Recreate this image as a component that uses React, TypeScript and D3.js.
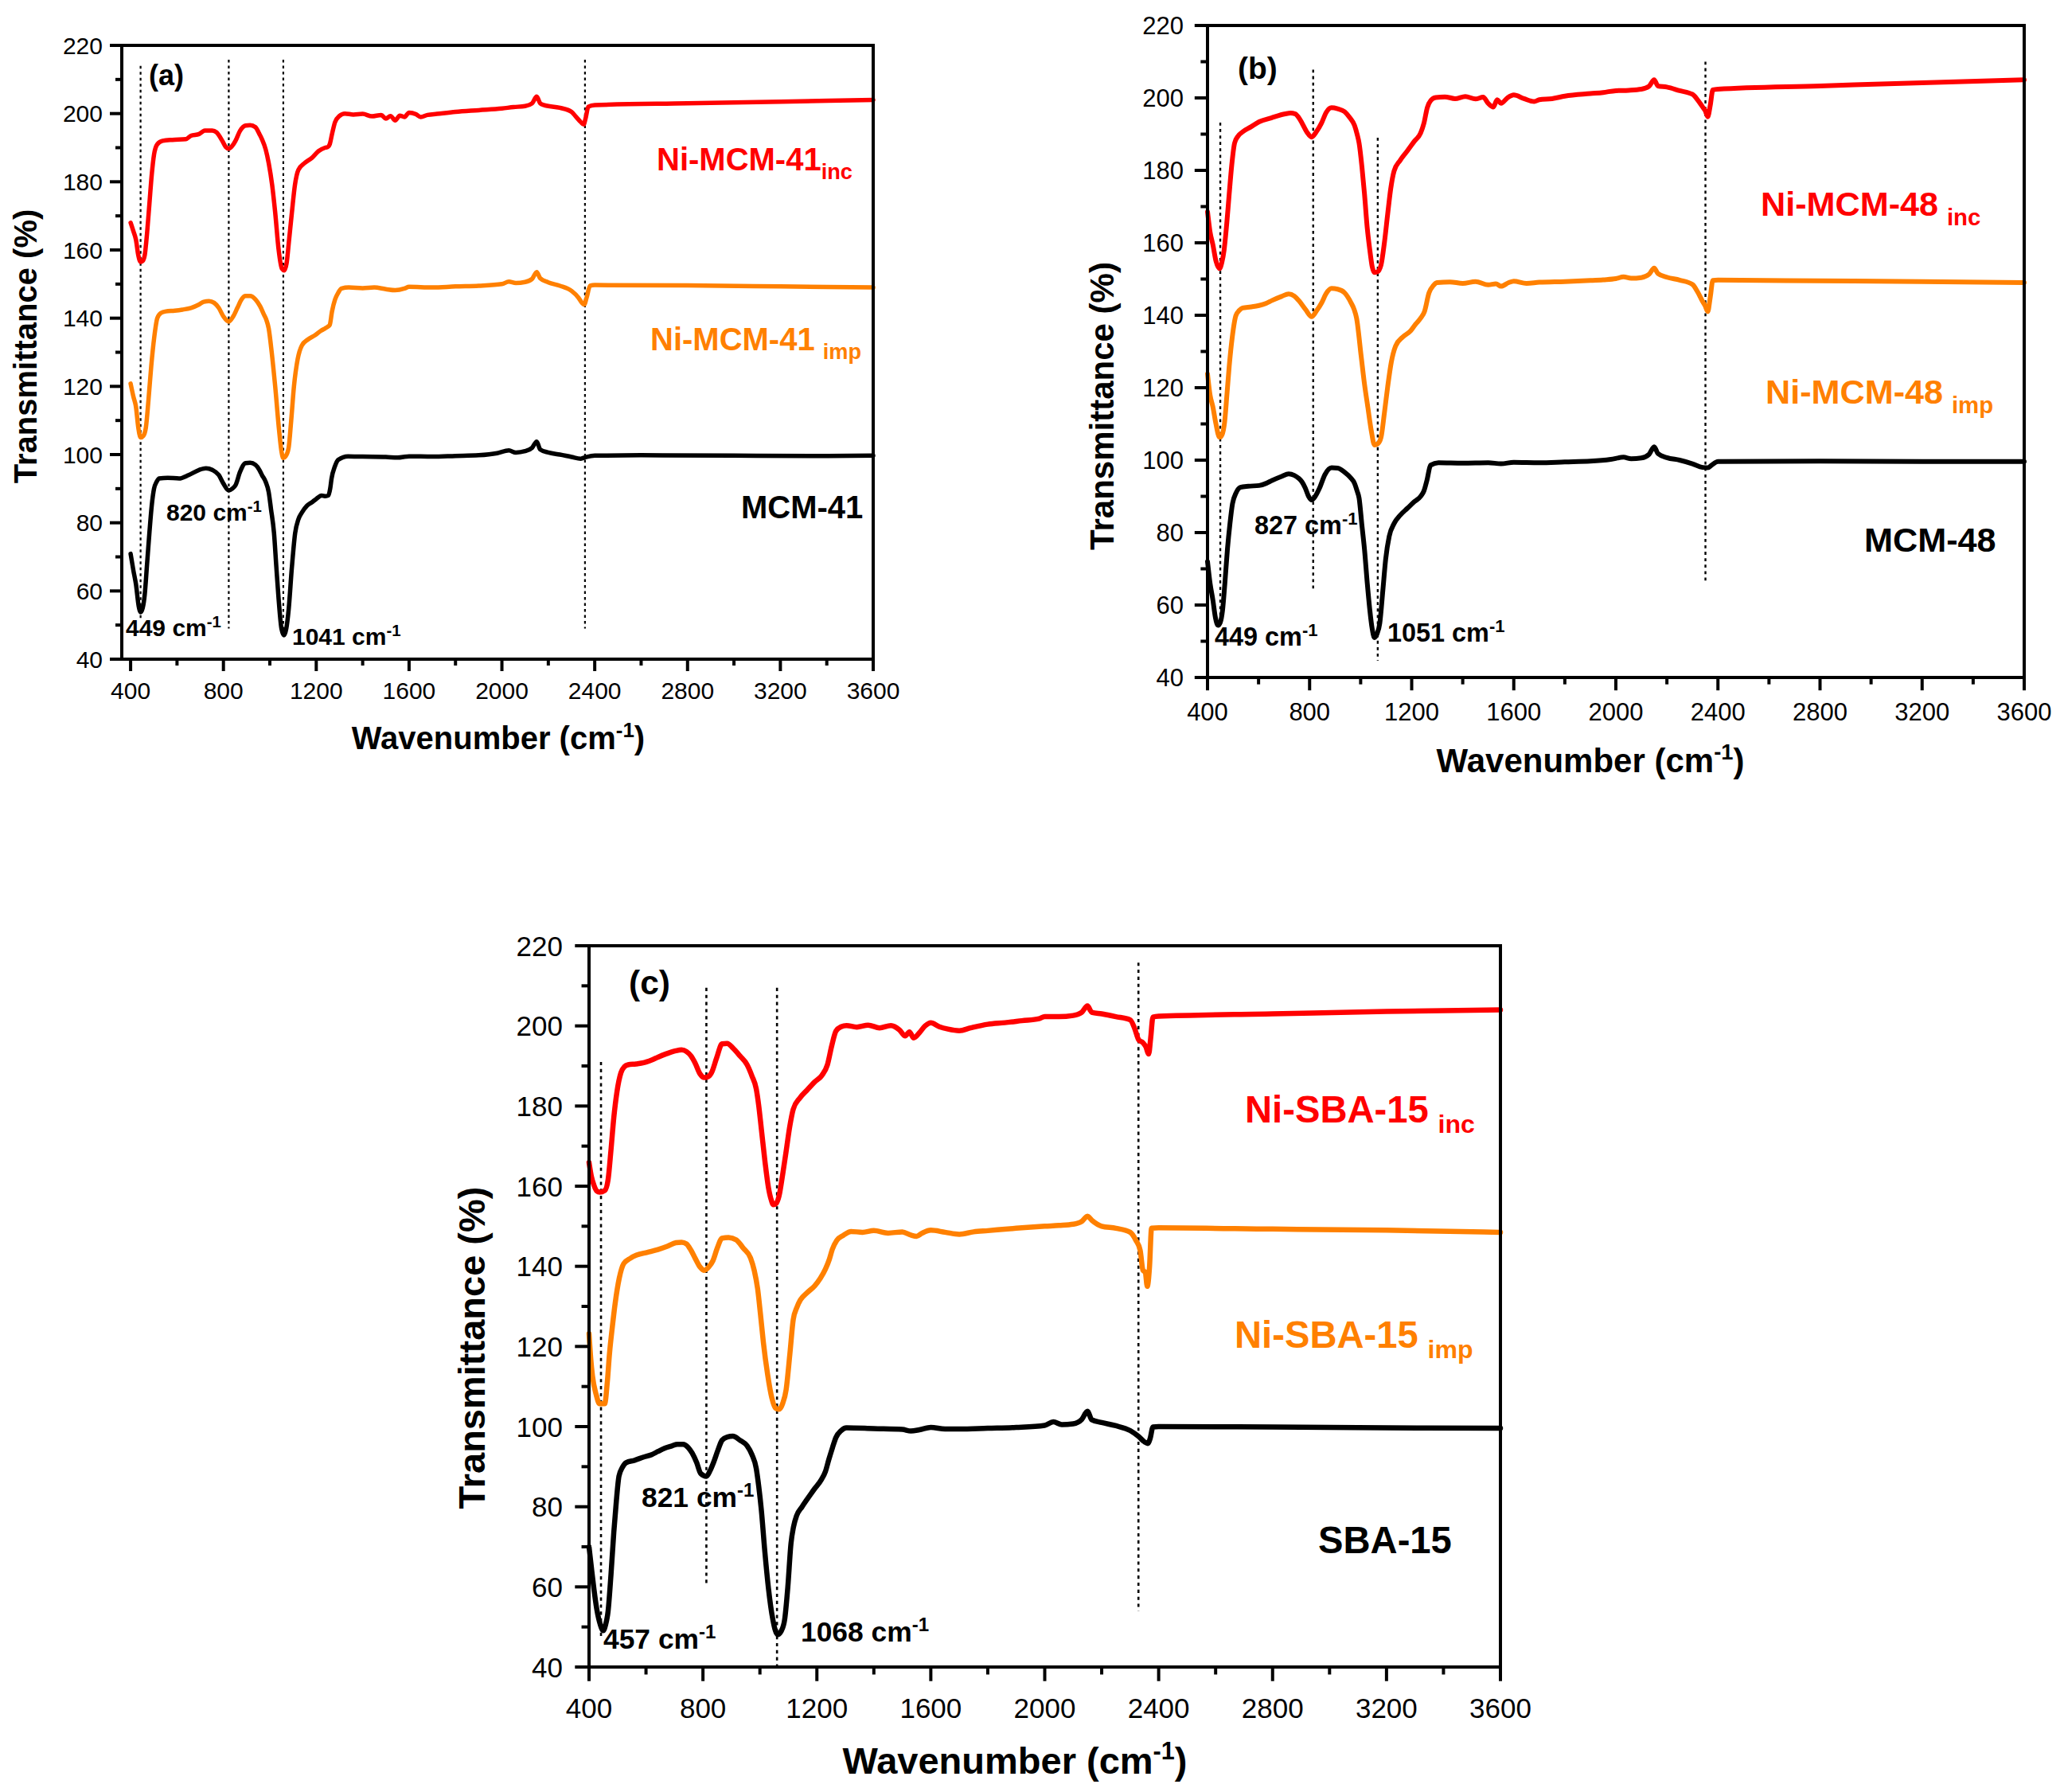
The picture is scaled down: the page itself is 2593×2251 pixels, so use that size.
import React from "react";
import * as d3 from "d3";

type Pt = [number, number];

// ---------- Panel (a) ----------
const mcm41: Pt[] = [[400,70.9],[412,66],[423,62],[435,55.5],[443,53.8],[452,55],[461,59],[471,68],[481,77],[491,85],[501,90],[512,92],[523,93],[560,93.2],[609,93],[650,94],[695,95.5],[725,96],[752,95.5],[780,94],[800,91.5],[823,89.5],[838,90],[852,91],[872,95],[895,97.5],[915,97.6],[938,97],[955,95.5],[966,94],[982,92],[995,89],[1005,84],[1018,77],[1028,67],[1038,57.5],[1050,49],[1061,47],[1071,49],[1081,54.5],[1095,67],[1109,77],[1123,81],[1138,83],[1160,85],[1181,86],[1200,87],[1223,88],[1240,87.8],[1252,88],[1260,90],[1266,93],[1280,96.5],[1295,98.5],[1337,99.5],[1400,99.4],[1500,99.3],[1550,99.1],[1600,99.5],[1700,99.4],[1800,99.6],[1900,99.8],[1980,100.4],[2030,101.2],[2060,100.6],[2100,101],[2130,102],[2150,103.8],[2165,101.5],[2200,100.6],[2250,100],[2300,99.3],[2340,98.8],[2360,99.2],[2400,99.7],[2600,99.8],[3000,99.7],[3400,99.6],[3600,99.7]];
const niMcm41Inc: Pt[] = [[400,168],[412,165.5],[423,163],[433,158.5],[443,156.5],[452,156.8],[461,158.5],[471,165],[481,173.5],[491,182],[501,188],[515,191],[538,192],[580,192.3],[638,192.5],[660,193.5],[695,194],[720,195],[752,195],[770,194.5],[795,192],[810,190.2],[823,189.7],[838,190.5],[852,192],[872,195],[895,196.5],[915,196.6],[938,196],[955,194],[966,192.5],[982,189.5],[995,185.5],[1010,179],[1023,171],[1038,160],[1052,154.5],[1062,154],[1072,156],[1083,163],[1095,171],[1108,179],[1123,183.5],[1150,185.5],[1181,187],[1210,189],[1238,190],[1250,190.2],[1258,191],[1268,194],[1281,197.5],[1300,199.3],[1323,200],[1360,199.7],[1400,199.9],[1440,199.2],[1480,199.6],[1500,198.5],[1520,199.3],[1540,198],[1560,199.4],[1580,199],[1600,200.3],[1630,199.8],[1650,199],[1680,199.6],[1720,199.9],[1800,200.5],[1900,201],[2000,201.5],[2050,201.9],[2100,202.2],[2130,203],[2150,205],[2165,203],[2180,202.5],[2250,201.7],[2300,200.5],[2320,199],[2340,197.5],[2352,196.8],[2362,199],[2372,202],[2400,202.5],[2800,203],[3200,203.5],[3600,204]];
const niMcm41Imp: Pt[] = [[400,120.8],[412,117],[423,114],[433,108],[443,105],[455,105.5],[466,108],[477,116],[489,126],[502,134.5],[515,140],[530,141.5],[552,142],[590,142.2],[623,142.5],[660,143],[695,144],[715,144.8],[738,145],[760,144.5],[780,143],[800,140.5],[823,139],[842,140.5],[860,143],[878,145.5],[895,146.5],[915,146.5],[938,145.5],[958,143.5],[975,141],[985,139.5],[995,137],[1008,130],[1023,120],[1040,107],[1050,101],[1058,99],[1068,99.5],[1081,102],[1092,110],[1104,120],[1120,128],[1138,132],[1165,133.8],[1195,135],[1220,136.3],[1238,137],[1250,137.5],[1258,138],[1268,142],[1281,145.5],[1295,147.5],[1309,148.7],[1340,149],[1400,148.8],[1450,149],[1500,148.5],[1540,148.2],[1580,148.7],[1600,149.2],[1700,149],[1800,149.3],[1900,149.5],[2000,150],[2030,150.7],[2060,150.3],[2100,150.6],[2130,151.5],[2150,153.5],[2165,151.7],[2200,150.5],[2250,149.5],[2300,148],[2330,146],[2345,144.5],[2355,144],[2365,146],[2380,149.5],[2400,149.7],[2800,149.6],[3200,149.3],[3600,149]];
const guidesA: [number, number, number][] = [[443,214,52],[823,215.8,49],[1058,215.8,48],[2358,215.8,49]];

// ---------- Panel (b) ----------
const mcm48: Pt[] = [[400,72],[410,66],[421,61.4],[431,56.5],[441,54.4],[450,55.2],[459,58.6],[468,66],[478,75.4],[488,82.5],[498,88],[512,91],[529,92.5],[560,92.8],[602,93],[630,93.6],[653,94.4],[690,95.5],[718,96.2],[740,95.8],[757,95],[770,94],[783,92.3],[796,90],[808,89],[822,90],[839,92.3],[860,96],[886,97.9],[910,97.8],[937,96.7],[960,95.2],[976,93.6],[986,91.5],[994,89.5],[1005,82],[1015,75.4],[1026,66],[1036,58.6],[1045,53.5],[1054,51],[1064,52],[1075,55],[1087,64],[1098,72.6],[1112,79],[1131,82.5],[1155,84.8],[1183,86.7],[1210,88.5],[1235,90],[1248,91.5],[1260,94.5],[1274,98.6],[1305,99.3],[1400,99.2],[1500,99.3],[1550,99],[1600,99.4],[1700,99.3],[1800,99.5],[1900,99.7],[1980,100.2],[2030,100.8],[2060,100.4],[2100,100.6],[2130,101.6],[2150,103.7],[2165,101.8],[2200,100.7],[2250,100],[2300,99],[2340,98],[2360,97.9],[2375,98.6],[2400,99.6],[2800,99.7],[3200,99.6],[3600,99.6]];
const niMcm48Inc: Pt[] = [[400,168.6],[410,163],[421,159.5],[433,155],[447,152.9],[456,154.5],[465,158],[475,165],[485,173.5],[495,181.5],[506,187.5],[520,189.5],[537,190.6],[570,192],[602,193.4],[650,194.5],[705,195.6],[725,195.8],[744,195.6],[758,194.5],[770,193.1],[790,190.5],[808,189.2],[825,190.5],[847,193.1],[865,196],[886,197.3],[910,197],[937,196.2],[958,194.5],[976,192.4],[986,190],[994,187.5],[1005,181],[1015,173.5],[1026,164],[1036,158],[1045,153.5],[1054,151.8],[1066,152],[1080,153.9],[1093,160],[1106,168],[1118,175],[1131,179.8],[1155,182.8],[1183,185.4],[1210,188],[1235,190.3],[1248,193],[1261,197.3],[1275,199.3],[1294,200.1],[1330,200.3],[1370,199.8],[1410,200.4],[1450,199.7],[1480,200.2],[1500,198.5],[1520,197.5],[1535,199.5],[1550,198.5],[1575,200],[1600,200.8],[1640,199.8],[1680,199],[1700,199.5],[1750,199.8],[1800,200.5],[1900,201.2],[1950,201.5],[2000,202],[2050,202.1],[2100,202.4],[2130,203.2],[2150,205],[2165,203.3],[2200,203],[2250,202],[2300,201],[2320,199.5],[2340,197.5],[2350,196.5],[2360,194.8],[2370,198],[2380,202.2],[2400,202.4],[2800,203.3],[3200,204.2],[3600,205]];
const niMcm48Imp: Pt[] = [[400,123.8],[410,118],[421,114.7],[433,110],[447,106.3],[457,107],[467,110.5],[476,118],[485,125.9],[497,134],[511,139.9],[524,141.3],[537,142],[570,142.3],[602,142.7],[630,143.3],[653,144.1],[690,145.2],[718,145.9],[740,145.3],[757,144.1],[785,141.5],[808,139.6],[827,141.2],[847,143.4],[865,146],[886,147.4],[910,147.2],[937,146.2],[962,143.5],[975,141.5],[984,139.2],[1002,128.7],[1015,121],[1028,114.7],[1042,108],[1054,104.2],[1067,104.5],[1080,106.3],[1093,113],[1106,120.3],[1120,127],[1137,131.5],[1165,134],[1196,135.7],[1215,137.5],[1235,139.2],[1250,141],[1268,146.2],[1285,148.2],[1299,149],[1350,149.2],[1400,148.8],[1450,149.3],[1500,148.4],[1530,148.7],[1550,148],[1580,149],[1600,149.4],[1650,148.8],[1700,149.1],[1800,149.3],[1900,149.6],[1950,149.8],[2000,150.1],[2030,150.6],[2060,150.2],[2100,150.4],[2130,151.3],[2150,153],[2165,151.5],[2200,150.5],[2250,149.7],[2300,148.5],[2320,146.5],[2340,143.8],[2350,142.6],[2360,141],[2370,145],[2380,149.6],[2400,149.7],[2800,149.5],[3200,149.3],[3600,149]];
const guidesB: [number, number, number][] = [[450,193.2,56],[814,207.8,64.2],[1067,189,44.6],[2351,210,66.3]];

// ---------- Panel (c) ----------
const sba15: Pt[] = [[400,70],[408,65],[417,59.6],[427,54.5],[437,51.2],[450,49.1],[458,50.5],[467,54],[477,63],[487,73.6],[496,81.5],[505,87.6],[517,89.8],[530,91],[560,91.6],[592,92.4],[620,93],[642,93.8],[665,94.6],[692,95.2],[710,95.6],[730,95.6],[748,94.8],[762,93.4],[778,91],[792,88.3],[812,87.6],[825,89],[837,91],[852,94],[867,96.6],[885,97.4],[905,97.6],[930,96.6],[955,95.2],[972,93],[987,89.6],[996,85],[1005,79.2],[1017,69],[1030,59.6],[1045,52],[1062,48.1],[1075,49],[1087,51.9],[1098,60],[1109,70.8],[1118,75],[1129,77.8],[1148,80],[1167,82],[1192,84.5],[1217,86.9],[1230,88.8],[1242,91.8],[1255,94.8],[1267,97.3],[1285,99],[1304,99.7],[1400,99.5],[1500,99.3],[1530,98.9],[1560,99.2],[1600,99.8],[1650,99.4],[1700,99.4],[1800,99.6],[1900,99.8],[2000,100.3],[2030,101.2],[2060,100.5],[2100,100.7],[2130,101.8],[2150,103.8],[2165,101.7],[2200,101],[2250,100.2],[2300,99],[2330,97.5],[2350,96.2],[2362,95.8],[2370,97],[2380,99.9],[2400,100],[2800,99.9],[3200,99.7],[3600,99.6]];
const niSba15Inc: Pt[] = [[400,165.9],[408,162.5],[417,160.3],[427,158.8],[437,158.5],[455,158.9],[467,161.7],[477,169],[487,177.1],[498,183.5],[512,188.3],[524,189.8],[537,190.3],[565,190.5],[592,190.8],[620,191.5],[642,192.2],[670,193],[705,193.8],[725,194],[742,193.6],[758,192.5],[772,190.8],[790,188],[805,187.1],[818,187.3],[830,188.3],[848,192],[867,195.5],[885,195.6],[905,194.5],[930,192.5],[955,190.3],[972,187.5],[987,184.3],[996,180],[1005,174.3],[1018,166],[1030,159.6],[1040,156.5],[1047,155.4],[1057,155.7],[1067,157.5],[1080,163],[1092,168.7],[1105,175],[1117,179.2],[1140,182],[1167,184.1],[1192,186],[1217,187.6],[1237,190.3],[1252,195],[1267,198.7],[1285,199.8],[1304,200.1],[1340,199.7],[1380,200.2],[1420,199.5],[1460,200.1],[1490,199],[1510,197.5],[1525,198.5],[1540,197],[1560,198.3],[1580,200],[1600,200.8],[1630,199.8],[1660,199.2],[1700,198.8],[1740,199.5],[1800,200.4],[1860,200.8],[1920,201.3],[1980,201.8],[2000,202.3],[2050,202.3],[2100,202.6],[2130,203.4],[2150,205],[2165,203.4],[2200,203],[2250,202.3],[2300,201.5],[2315,199.5],[2330,196.5],[2345,195.8],[2355,194.8],[2365,193],[2372,197],[2380,202.2],[2400,202.4],[2800,203],[3200,203.6],[3600,204]];
const niSba15Imp: Pt[] = [[400,123.2],[406,117],[412,112.7],[425,108],[437,105.7],[455,105.7],[464,111],[472,118.3],[482,125],[492,130.9],[506,137],[522,140.7],[545,142],[567,142.8],[605,143.5],[642,144.2],[675,145],[705,145.9],[725,146],[742,145.6],[758,144],[772,142.1],[790,139.8],[805,139],[820,139.8],[835,141.4],[850,144.5],[867,147],[890,147.2],[917,146.6],[942,144.5],[967,142.1],[980,139],[992,134.4],[1002,128],[1012,121.1],[1027,113],[1042,107.1],[1055,104.6],[1067,104.3],[1080,105.8],[1092,109.2],[1105,118],[1117,126.7],[1130,129.8],[1142,131.6],[1167,133.5],[1192,135.1],[1212,137],[1230,139.3],[1244,141.8],[1254,144.2],[1270,146.5],[1292,147.7],[1320,148.7],[1360,148.5],[1400,148.9],[1450,148.3],[1500,148.6],[1530,147.8],[1550,147.5],[1570,148.3],[1600,149],[1650,148.5],[1700,148],[1750,148.6],[1800,148.9],[1900,149.5],[2000,150],[2050,150.2],[2100,150.5],[2130,151.2],[2150,152.5],[2165,151.5],[2200,150],[2250,149.5],[2300,148.5],[2320,146.5],[2335,144],[2345,139],[2353,138.5],[2360,135],[2368,140],[2375,149.5],[2400,149.6],[2800,149.3],[3200,149],[3600,148.5]];
const guidesC: [number, number, number][] = [[442,191,47],[812,209.5,60.3],[1060,209.5,40],[2329,215.8,54]];

const xTickLabels = [400, 800, 1200, 1600, 2000, 2400, 2800, 3200, 3600];
const yTickLabels = [40, 60, 80, 100, 120, 140, 160, 180, 200, 220];

const RED = "#ff0000";
const ORANGE = "#ff8000";
const BLACK = "#000000";
const FONT = "'Liberation Sans', Arial, Helvetica, sans-serif";

type Label = { text: string; sub?: string; sp?: boolean; x: number; y: number; color: string };
type Ann = { num: string; x: number; y: number };

type PanelCfg = {
  left: number; right: number; top: number; bottom: number; x0: number;
  k: number; tickFs: number; titleFs: number; lw: number;
  letter: string; letterPos: [number, number];
  series: { data: Pt[]; color: string }[];
  guides: [number, number, number][];
  labels: Label[];
  anns: Ann[];
  yTitle: [number, number]; xTitle: [number, number];
  yLabOff: number; xLabOff: number;
};

const panels: PanelCfg[] = [
  {
    left: 153, right: 1097, top: 57, bottom: 828, x0: 362, k: 1, tickFs: 30, titleFs: 40, lw: 5.5,
    letter: "(a)", letterPos: [187, 107],
    series: [{ data: niMcm41Inc, color: RED }, { data: niMcm41Imp, color: ORANGE }, { data: mcm41, color: BLACK }],
    guides: guidesA,
    labels: [
      { text: "Ni-MCM-41", sub: "inc", sp: false, x: 825, y: 214, color: RED },
      { text: "Ni-MCM-41", sub: "imp", sp: true, x: 817, y: 440, color: ORANGE },
      { text: "MCM-41", x: 931, y: 651, color: BLACK },
    ],
    anns: [
      { num: "820", x: 209, y: 654 },
      { num: "449", x: 158, y: 799 },
      { num: "1041", x: 367, y: 810 },
    ],
    yTitle: [32, 435], xTitle: [626, 941], yLabOff: 24, xLabOff: 50,
  },
  {
    left: 1517, right: 2543, top: 32, bottom: 851, x0: 400, k: 1.08, tickFs: 31, titleFs: 42, lw: 6,
    letter: "(b)", letterPos: [1555, 99],
    series: [{ data: niMcm48Inc, color: RED }, { data: niMcm48Imp, color: ORANGE }, { data: mcm48, color: BLACK }],
    guides: guidesB,
    labels: [
      { text: "Ni-MCM-48", sub: "inc", sp: true, x: 2212, y: 271, color: RED },
      { text: "Ni-MCM-48", sub: "imp", sp: true, x: 2218, y: 507, color: ORANGE },
      { text: "MCM-48", x: 2342, y: 693, color: BLACK },
    ],
    anns: [
      { num: "827", x: 1576, y: 671 },
      { num: "449", x: 1526, y: 811 },
      { num: "1051", x: 1743, y: 806 },
    ],
    yTitle: [1384, 510], xTitle: [1998, 970], yLabOff: 30, xLabOff: 54,
  },
  {
    left: 740, right: 1885, top: 1188, bottom: 2094, x0: 400, k: 1.18, tickFs: 35, titleFs: 47, lw: 6.5,
    letter: "(c)", letterPos: [790, 1249],
    series: [{ data: niSba15Inc, color: RED }, { data: niSba15Imp, color: ORANGE }, { data: sba15, color: BLACK }],
    guides: guidesC,
    labels: [
      { text: "Ni-SBA-15", sub: "inc", sp: true, x: 1564, y: 1410, color: RED },
      { text: "Ni-SBA-15", sub: "imp", sp: true, x: 1551, y: 1693, color: ORANGE },
      { text: "SBA-15", x: 1656, y: 1951, color: BLACK },
    ],
    anns: [
      { num: "821", x: 806, y: 1893 },
      { num: "457", x: 758, y: 2071 },
      { num: "1068", x: 1006, y: 2062 },
    ],
    yTitle: [592, 1693], xTitle: [1275, 2228], yLabOff: 33, xLabOff: 64,
  },
];

function Panel({ p }: { p: PanelCfg }) {
  const x = d3.scaleLinear().domain([p.x0, 3600]).range([p.left, p.right]);
  const y = d3.scaleLinear().domain([40, 220]).range([p.bottom, p.top]);
  const line = d3.line<Pt>().x((d) => x(d[0])).y((d) => y(d[1])).curve(d3.curveMonotoneX);
  const xMinor = d3.range(600, 3600, 400);
  const yMinor = d3.range(50, 220, 20);
  const majorLen = 15 * p.k;
  const minorLen = 8 * p.k;
  const annFs = 30 * p.k;
  const labFs = 40 * p.k;
  const axisW = 4;
  const tf = p.titleFs;
  return (
    <g fontFamily={FONT}>
      {p.guides.map((g, i) => (
        <line key={"g" + i} x1={x(g[0])} x2={x(g[0])} y1={y(g[1])} y2={y(g[2])}
          stroke="#000" strokeWidth={2.2 * p.k} strokeDasharray={`${3.5 * p.k},${4 * p.k}`} />
      ))}
      {p.series.map((s, i) => (
        <path key={"s" + i} d={line(s.data) || ""} fill="none" stroke={s.color}
          strokeWidth={p.lw} strokeLinejoin="round" strokeLinecap="round" />
      ))}
      <rect x={p.left} y={p.top} width={p.right - p.left} height={p.bottom - p.top}
        fill="none" stroke="#000" strokeWidth={axisW} />
      {xTickLabels.map((t) => (
        <g key={"xt" + t}>
          <line x1={x(t)} x2={x(t)} y1={p.bottom} y2={p.bottom + majorLen} stroke="#000" strokeWidth={axisW} />
          <text x={x(t)} y={p.bottom + p.xLabOff} fontSize={p.tickFs} textAnchor="middle">{t}</text>
        </g>
      ))}
      {xMinor.map((t) => (
        <line key={"xm" + t} x1={x(t)} x2={x(t)} y1={p.bottom} y2={p.bottom + minorLen} stroke="#000" strokeWidth={axisW} />
      ))}
      {yTickLabels.map((t) => (
        <g key={"yt" + t}>
          <line x1={p.left} x2={p.left - majorLen} y1={y(t)} y2={y(t)} stroke="#000" strokeWidth={axisW} />
          <text x={p.left - p.yLabOff} y={y(t)} dy="0.36em" fontSize={p.tickFs} textAnchor="end">{t}</text>
        </g>
      ))}
      {yMinor.map((t) => (
        <line key={"ym" + t} x1={p.left} x2={p.left - minorLen} y1={y(t)} y2={y(t)} stroke="#000" strokeWidth={axisW} />
      ))}
      <text transform={`translate(${p.yTitle[0]},${p.yTitle[1]}) rotate(-90)`} textAnchor="middle"
        dy="0.36em" fontSize={tf} fontWeight="bold">Transmittance (%)</text>
      <text x={p.xTitle[0]} y={p.xTitle[1]} textAnchor="middle" fontSize={tf} fontWeight="bold">
        Wavenumber (cm<tspan dy={-tf * 0.38} fontSize={tf * 0.65}>-1</tspan>
        <tspan dy={tf * 0.38}>)</tspan>
      </text>
      <text x={p.letterPos[0]} y={p.letterPos[1]} fontSize={36 * p.k} fontWeight="bold">{p.letter}</text>
      {p.labels.map((l, i) => (
        <text key={"l" + i} x={l.x} y={l.y} fontSize={labFs} fontWeight="bold" fill={l.color}>
          {l.text}
          {l.sub ? (
            <tspan dx={l.sp ? labFs * 0.25 : 0} dy={labFs * 0.28} fontSize={labFs * 0.68}>{l.sub}</tspan>
          ) : null}
        </text>
      ))}
      {p.anns.map((a, i) => (
        <text key={"a" + i} x={a.x} y={a.y} fontSize={annFs} fontWeight="bold">
          {a.num} cm<tspan dy={-annFs * 0.38} fontSize={annFs * 0.68}>-1</tspan>
        </text>
      ))}
    </g>
  );
}

export default function App() {
  return (
    <svg width={2593} height={2251} viewBox="0 0 2593 2251"
      style={{ position: "absolute", left: 0, top: 0, background: "#fff" }}>
      <rect x={0} y={0} width={2593} height={2251} fill="#fff" />
      {panels.map((p, i) => <Panel key={i} p={p} />)}
    </svg>
  );
}
